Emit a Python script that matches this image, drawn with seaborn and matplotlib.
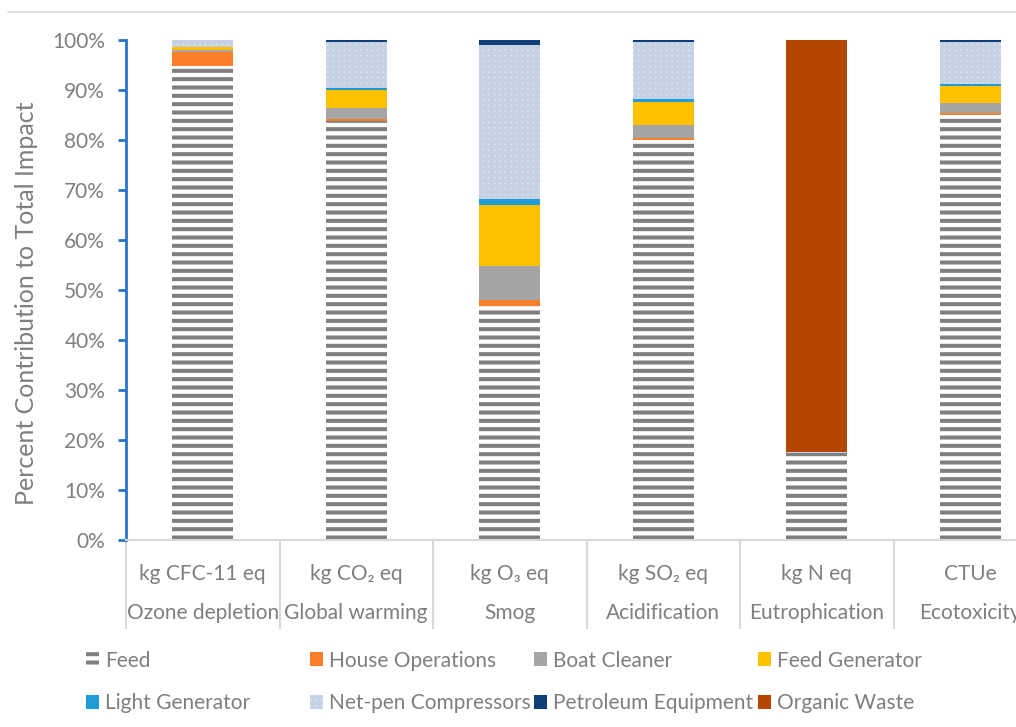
import numpy as np
import matplotlib
matplotlib.use("Agg")
import matplotlib.pyplot as plt
import matplotlib.patches as mpatches
from matplotlib.lines import Line2D
import seaborn as sns

# DATA

units = ["kg CFC-11 eq", "kg CO\u2082 eq", "kg O\u2083 eq", "kg SO\u2082 eq", "kg N eq", "CTUe"]
impacts = ["Ozone depletion", "Global warming", "Smog", "Acidification", "Eutrophication", "Ecotoxicity"]

feed          = [94.9, 83.8, 46.8, 80.0, 17.5, 85.1]
house_ops     = [2.8, 0.5, 1.2, 0.5, 0.0, 0.4]
boat_cleaner  = [0.4, 2.1, 6.9, 2.5, 0.0, 1.9]
feed_gen      = [0.5, 3.6, 12.1, 4.7, 0.0, 3.5]
light_gen     = [0.1, 0.4, 1.3, 0.5, 0.0, 0.3]
netpen_comp   = [1.3, 9.2, 30.7, 11.4, 0.2, 8.4]
petroleum_eq  = [0.0, 0.4, 1.0, 0.4, 0.0, 0.4]
organic_waste = [0.0, 0.0, 0.0, 0.0, 82.3, 0.0]

yticks = [0, 10, 20, 30, 40, 50, 60, 70, 80, 90, 100]

# STYLE

sns.set_style("white")
plt.rcParams['font.family'] = ['Lato', 'DejaVu Sans']
plt.rcParams['hatch.linewidth'] = 2.9
grey_txt = "#7f7f7f"

# name, values, face, edge(hatch colour), hatch
series = [
    ("Feed",                 feed,          "white",   "#7f7f7f", "--"),
    ("House Operations",     house_ops,     "#fb7f2a", "#fb7f2a", None),
    ("Boat Cleaner",         boat_cleaner,  "#a5a5a5", "#a5a5a5", None),
    ("Feed Generator",       feed_gen,      "#ffc000", "#ffc000", None),
    ("Light Generator",      light_gen,     "#1f9cd8", "#1f9cd8", None),
    ("Net-pen Compressors",  netpen_comp,   "#e4eaf3", "#c6d1e3", "+++"),
    ("Petroleum Equipment",  petroleum_eq,  "#0e3f78", "#0e3f78", None),
    ("Organic Waste",        organic_waste, "#b44700", "#b44700", None),
]

fig = plt.figure(figsize=(10.16, 7.27), dpi=100)
ax = fig.add_axes([126/1016, 187/727, 921/1016, 500/727])

# STACKED BARS

bottom = np.zeros(len(impacts))
handles = []
for name, vals, face, edge, hatch in series:
    sns.barplot(x=impacts, y=vals, bottom=bottom.copy(), ax=ax, color=face,
                saturation=1, width=0.4, errorbar=None, linewidth=0,
                edgecolor=edge, hatch=hatch)
    bottom += np.array(vals)
    handles.append(mpatches.Patch(facecolor=face, edgecolor=edge, hatch=hatch,
                                  linewidth=0, label=name))

# AXES

ax.set_xlim(-0.5, len(impacts) - 0.5)
ax.set_ylim(0, 100)
ax.set_yticks(yticks)
ax.set_yticklabels([f"{v}%" for v in yticks], fontsize=15, color=grey_txt)
ax.tick_params(axis='y', direction='out', length=6, width=2, color="#2a74c9", pad=9, left=True)

ax.set_xticks(range(len(impacts)))
ax.set_xticklabels([u + "\n" + n for u, n in zip(units, impacts)],
                   fontsize=15, color=grey_txt, linespacing=2.2)
ax.tick_params(axis='x', which='major', length=0, pad=17)
ax.set_xticks(np.arange(-0.5, len(impacts)), minor=True)
ax.tick_params(axis='x', which='minor', bottom=True, direction='out', length=64,
               width=1.5, color="#d9d9d9")
ax.set_xlabel("")

for s in ["top", "right"]:
    ax.spines[s].set_visible(False)
ax.spines["left"].set_color("#2a74c9")
ax.spines["left"].set_linewidth(2)
ax.spines["bottom"].set_color("#d9d9d9")
ax.spines["bottom"].set_linewidth(1.5)

fig.text(27/1016, 1 - 303/727, "Percent Contribution to Total Impact", rotation=90,
         ha="center", va="center", fontsize=18, color=grey_txt)

# LEGEND (4 columns of 2 rows)

col_x = [86, 310, 534, 758]
for c in range(4):
    leg = fig.legend(handles=[handles[c], handles[c + 4]], loc="center left",
                     bbox_to_anchor=(col_x[c]/1016, 1 - 682/727), frameon=False,
                     fontsize=15, handlelength=0.62, handleheight=0.62,
                     handletextpad=0.3, labelspacing=1.1, borderpad=0,
                     borderaxespad=0)
    for t in leg.get_texts():
        t.set_color(grey_txt)

# chart frame top line
fig.add_artist(Line2D([8/1016, 1], [1 - 12/727, 1 - 12/727], color="#d9d9d9",
                      lw=1.2, transform=fig.transFigure))

fig.savefig("out.png", dpi=100)
